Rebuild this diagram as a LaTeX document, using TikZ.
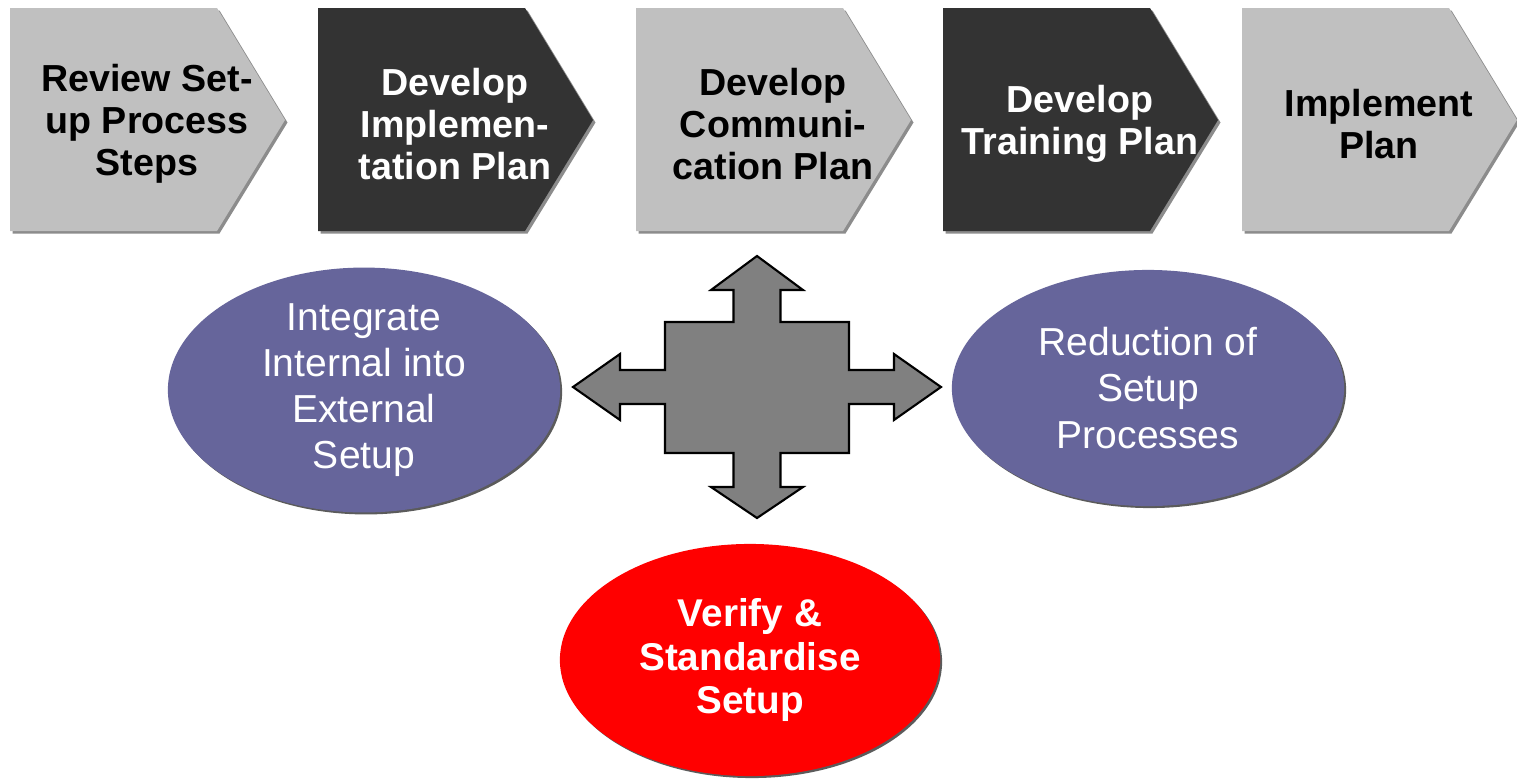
\documentclass[tikz,border=0pt]{standalone}
\usepackage{fontspec}
\setmainfont{Liberation Sans}
\usepackage{tikz}
\usetikzlibrary{positioning,shapes.geometric,shadows}

\definecolor{lightstep}{HTML}{C0C0C0}
\definecolor{darkstep}{HTML}{333333}
\definecolor{crossgrey}{HTML}{808080}
\definecolor{ovalblue}{HTML}{66659B}
\definecolor{ovalred}{HTML}{FF0000}

\begin{document}
\begin{tikzpicture}[x=0.01cm,y=-0.01cm,
        step text/.style={align=center,font=\bfseries\fontsize{10.7}{12}\selectfont},
        step shadow/.style={drop shadow={shadow xshift=0.025cm,shadow yshift=-0.025cm,fill=black,opacity=.45}},
        oval/.style={ellipse,minimum width=3.92cm,minimum height=2.36cm,inner sep=0pt,
            text=white,align=center,font=\fontsize{11.1}{13.1}\selectfont,
            drop shadow={shadow xshift=0.02cm,shadow yshift=-0.02cm,fill=black!80,opacity=.8}},
        cross/.style={draw=black,fill=crossgrey,line width=0.6pt,line join=miter}]

    \useasboundingbox[fill=white] (0,0) rectangle (1517,778);

    % process steps
    \foreach \x/\c/\t/\n/\s in {
            10/lightstep/black/review/{Review Set-\\up Process\\Steps},
            318/darkstep/white/implan/{Develop\\Implemen-\\tation Plan},
            636/lightstep/black/complan/{Develop\\Communi-\\cation Plan},
            943/darkstep/white/trainplan/{Develop\\Training Plan},
            1242/lightstep/black/implement/{Implement\\Plan}} {
        \fill[\c,step shadow] (\x,8) -- (\x+207,8) -- (\x+275,120) -- (\x+207,231) -- (\x,231) -- cycle;
        \node[step text,text=\t] (\n) at (\x+137,124) {\s};
    }

    % four-way arrow
    \coordinate (hub) at (757,387);
    \draw[cross,shift={(hub)}] (0,-131) -- (46,-97) -- (23.5,-97) -- (23.5,-65) -- (92,-65)
        -- (92,-17) -- (137,-17) -- (137,-33) -- (184,0) -- (137,33) -- (137,17) -- (92,17)
        -- (92,66) -- (23.5,66) -- (23.5,100) -- (46,100) -- (0,131) -- (-46,100) -- (-23.5,100)
        -- (-23.5,66) -- (-92,66) -- (-92,17) -- (-137,17) -- (-137,33) -- (-184,0) -- (-137,-33)
        -- (-137,-17) -- (-92,-17) -- (-92,-65) -- (-23.5,-65) -- (-23.5,-97) -- (-46,-97) -- cycle;

    % outcomes
    \node[oval,fill=ovalblue] (integrate) at (364,390) {Integrate\\Internal into\\External\\Setup};
    \node[oval,fill=ovalblue] (reduce) at (1148,388) {Reduction of\\Setup\\Processes};
    \node[oval,fill=ovalred,minimum width=3.8cm,minimum height=2.32cm,
        font=\bfseries\fontsize{11}{12.5}\selectfont] (verify) at (750,660) {Verify \&\\Standardise\\Setup};
\end{tikzpicture}
\end{document}
